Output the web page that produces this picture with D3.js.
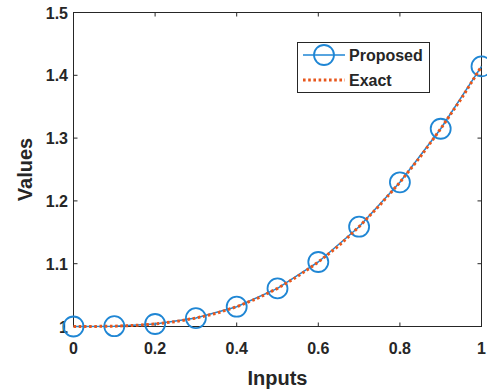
<!DOCTYPE html>
<html><head><meta charset="utf-8">
<script src="https://cdn.jsdelivr.net/npm/d3@7"></script>
<style>body{margin:0;background:#fff}svg{display:block}text{font-family:Arial,"Liberation Sans",sans-serif;font-weight:bold;fill:#262626}</style>
</head><body><svg id="c" width="487" height="389"></svg>
<script>
const inputs = [0,0.1,0.2,0.3,0.4,0.5,0.6,0.7,0.8,0.9,1.0];
const proposed = [1.0,1.0005,1.004,1.0134,1.0315,1.0607,1.1027,1.1589,1.2296,1.3149,1.4142];
const exactX = [0,0.05,0.1,0.15,0.2,0.25,0.3,0.35,0.4,0.45,0.5,0.55,0.6,0.65,0.7,0.75,0.8,0.85,0.9,0.95,1.0];
const exactY = [1.0,1.0001,1.0005,1.0017,1.004,1.0078,1.0134,1.021,1.0315,1.0446,1.0607,1.0801,1.1027,1.1285,1.1589,1.1927,1.2296,1.2702,1.3149,1.3623,1.4142];
const xTicks = [0,0.2,0.4,0.6,0.8,1];
const xTickLabels = ["0","0.2","0.4","0.6","0.8","1"];
const yTicks = [1,1.1,1.2,1.3,1.4,1.5];
const yTickLabels = ["1","1.1","1.2","1.3","1.4","1.5"];
const seriesNames = ["Proposed","Exact"];

const L=73.5,R=481.5,T=12.5,B=326.5;
const svg=d3.select("#c");
const x=d3.scaleLinear().domain([0,1]).range([L,R]);
const y=d3.scaleLinear().domain([1,1.5]).range([B,T]);
const axisCol="#262626";

const tl=4;
const g=svg.append("g").attr("stroke",axisCol).attr("stroke-width",1);
xTicks.forEach(v=>{
  g.append("line").attr("x1",x(v)).attr("x2",x(v)).attr("y1",B).attr("y2",B-tl);
  g.append("line").attr("x1",x(v)).attr("x2",x(v)).attr("y1",T).attr("y2",T+tl);
});
yTicks.forEach(v=>{
  g.append("line").attr("y1",y(v)).attr("y2",y(v)).attr("x1",L).attr("x2",L+tl);
  g.append("line").attr("y1",y(v)).attr("y2",y(v)).attr("x1",R).attr("x2",R-tl);
});
svg.append("rect").attr("x",L).attr("y",T).attr("width",R-L).attr("height",B-T)
  .attr("fill","none").attr("stroke",axisCol).attr("stroke-width",1);

xTicks.forEach((v,i)=>svg.append("text").attr("x",x(v)).attr("y",354).attr("text-anchor","middle")
  .attr("font-size",16).text(xTickLabels[i]));
yTicks.forEach((v,i)=>svg.append("text").attr("x",68).attr("y",y(v)+6).attr("text-anchor","end")
  .attr("font-size",16).text(yTickLabels[i]));

svg.append("text").attr("x",(L+R)/2).attr("y",385).attr("text-anchor","middle").attr("font-size",20).text("Inputs");
svg.append("text").attr("transform",`translate(32,${(T+B)/2}) rotate(-90)`).attr("text-anchor","middle").attr("font-size",20).text("Values");

const blue="#1f86d4", orange="#e8571c";
const line=d3.line().x(d=>x(d[0])).y(d=>y(d[1]));
svg.append("path").datum(inputs.map((v,i)=>[v,proposed[i]])).attr("d",line)
  .attr("fill","none").attr("stroke",blue).attr("stroke-width",1.5);
svg.selectAll("circle.p").data(inputs.map((v,i)=>[v,proposed[i]])).enter().append("circle")
  .attr("cx",d=>x(d[0])).attr("cy",d=>y(d[1])).attr("r",10)
  .attr("fill","none").attr("stroke",blue).attr("stroke-width",1.8);
svg.append("path").datum(exactX.map((v,i)=>[v,exactY[i]])).attr("d",line)
  .attr("fill","none").attr("stroke",orange).attr("stroke-width",3).attr("stroke-dasharray","2.6,2.6");

const lg=svg.append("g");
lg.append("rect").attr("x",297.5).attr("y",42.5).attr("width",132).attr("height",50)
  .attr("fill","#fff").attr("stroke",axisCol).attr("stroke-width",1);
lg.append("line").attr("x1",303).attr("x2",345).attr("y1",55).attr("y2",55).attr("stroke",blue).attr("stroke-width",1.5);
lg.append("circle").attr("cx",324).attr("cy",55).attr("r",10).attr("fill","none").attr("stroke",blue).attr("stroke-width",1.8);
lg.append("line").attr("x1",303).attr("x2",345).attr("y1",80).attr("y2",80).attr("stroke",orange).attr("stroke-width",3).attr("stroke-dasharray","2.6,2.6");
lg.append("text").attr("x",349).attr("y",61).attr("font-size",16).text(seriesNames[0]);
lg.append("text").attr("x",349).attr("y",86).attr("font-size",16).text(seriesNames[1]);
</script></body></html>
